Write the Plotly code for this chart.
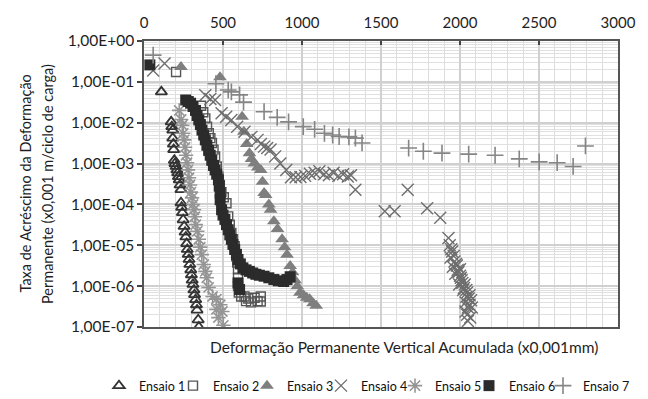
import plotly.graph_objects as go

# ---- data ----
e1_x = [110,172,176,182,182,186,188,192,196,203,208,213,218,223,228,234,234,238,243,248,254,260,265,270,274,280,285,290,296,300,305,310,316,320,327,332,336,343,347]
e1_y = [5.7e-2,1.05e-2,8e-3,6.6e-3,4.2e-3,3e-3,2.2e-3,1.2e-3,1.0e-3,8.5e-4,7e-4,5.9e-4,4.8e-4,4e-4,3e-4,2.3e-4,1.1e-4,8.5e-5,6.3e-5,4.2e-5,2.9e-5,2.1e-5,1.6e-5,1.1e-5,7.9e-6,6e-6,4.5e-6,3.4e-6,2.5e-6,1.9e-6,1.4e-6,1.1e-6,8.1e-7,6.2e-7,4.7e-7,3.5e-7,2.6e-7,1.5e-7,1e-7]

e2_x = [203,361,375,388,399,410,420,430,440,450,461,471,480,490,505,522,533,543,553,563,574,584,590,595,595,595,600,615,636,646,660,677,700,719,739,739]
e2_y = [0.175,0.026,0.018,0.0128,0.008,5.5e-3,4.2e-3,3.2e-3,2.2e-3,1.5e-3,8.5e-4,4.8e-4,3e-4,2e-4,1.5e-4,1.07e-4,5.1e-5,3.2e-5,2e-5,1.4e-5,9.5e-6,5.4e-6,3.8e-6,2.6e-6,1.6e-6,1e-6,7e-7,5.6e-7,5.6e-7,4.3e-7,5e-7,4.0e-7,5.2e-7,4.3e-7,5.6e-7,4.2e-7]

e3_x = [234,481,621,632,650,667,680,698,720,739,750,760,770,790,801,822,845,874,890,905,925,940,956,970,987,1010,1030,1049,1070,1090]
e3_y = [0.23,0.13,0.014,6e-3,3e-3,1.8e-3,1.3e-3,1e-3,8e-4,7e-4,3.6e-4,1.9e-4,1.7e-4,1e-4,7.4e-5,3.9e-5,2.5e-5,1.4e-5,9e-6,5.9e-6,3.1e-6,2.2e-6,1.4e-6,1e-6,6.9e-7,6e-7,5.2e-7,4.8e-7,3.8e-7,3.3e-7]

e4_x = [58,130,388,420,450,491,520,553,590,636,680,719,740,760,780,801,830,863,900,930,960,990,1020,1050,1080,1110,1140,1170,1200,1230,1260,1290,1310,1338,1524,1586,1669,1792,1875,1927,
        1935,1950,1940,1965,1955,1985,1970,2000,2010,1995,2030,2020,2045,2040,2060,2035,2070,2050,2075,2045,2065,
        1945,1960,1975,1990,2005,2015,2025,2040,2055,2060,1980,2000,2035,2050]
e4_y = [0.19,0.28,0.047,0.038,0.036,0.017,0.014,0.0117,8e-3,6e-3,4.5e-3,3.8e-3,3e-3,2.6e-3,2.4e-3,2.2e-3,1.5e-3,1e-3,7e-4,4.6e-4,4.6e-4,4.7e-4,5e-4,5.6e-4,6e-4,6.5e-4,5.5e-4,5.2e-4,6e-4,5e-4,5.5e-4,4.8e-4,5.2e-4,2.3e-4,6.8e-5,6.8e-5,2.3e-4,8.1e-5,4.7e-5,1.5e-5,
        1e-5,7e-6,5e-6,4e-6,3e-6,2.5e-6,2e-6,1.8e-6,1.4e-6,1.1e-6,1.1e-6,8e-7,7e-7,5.5e-7,6e-7,4e-7,4.5e-7,3e-7,3e-7,2e-7,1.7e-7,
        8e-6,5.5e-6,3.5e-6,2.2e-6,1.6e-6,1.2e-6,9e-7,8e-7,5e-7,3.5e-7,3.2e-6,2.6e-6,2.4e-7,1.4e-7]

e5_x = [223,235,242,248,254,260,266,272,279,285,291,297,304,310,316,322,328,337,347,356,366,378,388,397,409,434,458,483,458,496,471,502]
e5_y = [0.02,0.012,8.7e-3,5.5e-3,3.8e-3,2.5e-3,1.6e-3,1.05e-3,7e-4,4.5e-4,3e-4,2e-4,1.45e-4,1e-4,7.4e-5,5e-5,3.2e-5,2.2e-5,1.4e-5,9e-6,5.9e-6,3.4e-6,2.3e-6,1.6e-6,9.3e-7,5.6e-7,4.8e-7,3.5e-7,2.7e-7,2.4e-7,1.7e-7,1.1e-7]

e6_x = [37,264,280,295,310,326,336,347,357,367,378,388,398,409,419,429,440,450,460,471,476,482,482,491,500,512,522,533,543,553,563,574,585,595,610,626,646,667,688,708,730,760,790,822,850,884,905,925,595,605]
e6_y = [0.26,0.036,0.033,0.03,0.025,0.02,0.015,0.0117,9e-3,6.6e-3,5e-3,3.8e-3,2.8e-3,2.1e-3,1.6e-3,1.2e-3,9e-4,7e-4,5.5e-4,4e-4,2.8e-4,1.9e-4,1.3e-4,7.4e-5,5.5e-5,4.3e-5,3.2e-5,2.4e-5,1.8e-5,1.4e-5,1.05e-5,7.9e-6,6e-6,4.5e-6,3.5e-6,2.8e-6,2.5e-6,2.3e-6,2.1e-6,1.95e-6,1.85e-6,1.75e-6,1.6e-6,1.45e-6,1.35e-6,1.3e-6,1.45e-6,1.7e-6,1.2e-6,8.3e-7]

e7_x = [58,455,533,553,605,630,760,843,915,1008,1080,1142,1194,1235,1297,1338,1380,1675,1768,1886,2055,2222,2375,2501,2615,2716,2794]
e7_y = [0.45,0.09,0.063,0.057,0.048,0.032,0.0186,0.0135,0.0105,0.008,0.0069,0.0055,0.005,0.0046,0.0045,0.0042,0.0032,0.0024,0.002,0.0018,0.0017,0.0016,0.0013,0.0011,0.00105,0.00085,0.0027]

names = ["Ensaio 1", "Ensaio 2", "Ensaio 3", "Ensaio 4", "Ensaio 5", "Ensaio 6", "Ensaio 7"]
y_tickvals = [1, 1e-1, 1e-2, 1e-3, 1e-4, 1e-5, 1e-6, 1e-7]
y_ticktext = ["1,00E+00", "1,00E-01", "1,00E-02", "1,00E-03", "1,00E-04", "1,00E-05", "1,00E-06", "1,00E-07"]

series = [(e1_x, e1_y), (e2_x, e2_y), (e3_x, e3_y), (e4_x, e4_y), (e5_x, e5_y), (e6_x, e6_y), (e7_x, e7_y)]
styles = [
    dict(symbol="triangle-up-open", size=10, color="#333333", line=dict(width=1.8, color="#333333")),
    dict(symbol="square-open", size=9, color="#555555", line=dict(width=1.4, color="#555555")),
    dict(symbol="triangle-up", size=12, color="#7f7f7f", line=dict(width=0)),
    dict(symbol="x-thin-open", size=12, color="#6e6e6e", line=dict(width=1.4, color="#6e6e6e")),
    dict(symbol="asterisk-open", size=12, color="#959595", line=dict(width=1.6, color="#959595")),
    dict(symbol="square", size=11, color="#2b2b2b", line=dict(width=0)),
    dict(symbol="cross-thin-open", size=12, color="#858585", line=dict(width=1.6, color="#858585")),
]
# legend symbol centres (px), one legend box per entry
legend_sym_px = [116, 190, 264, 338, 412, 486, 560]

fig = go.Figure()
legend_layouts = {}
for i, ((xs, ys), nm, st) in enumerate(zip(series, names, styles)):
    key = "legend" if i == 0 else f"legend{i+1}"
    fig.add_trace(go.Scatter(x=xs, y=ys, mode="markers", name=nm, marker=st, legend=key))
    legend_layouts[key] = dict(
        orientation="h", xref="container", yref="container",
        x=(legend_sym_px[i] - 17) / 648, y=1 - 386 / 399,
        xanchor="left", yanchor="middle", font=dict(size=12.5, color="#111111"), itemwidth=30,
        bgcolor="rgba(0,0,0,0)", borderwidth=0,
    )

minor_vals = [m * 10.0 ** e for e in range(-7, 0) for m in range(2, 10)]

fig.update_layout(
    width=648, height=399,
    margin=dict(l=144, r=20, t=41, b=72),
    paper_bgcolor="white", plot_bgcolor="white",
    font=dict(family="Lato, Open Sans, sans-serif", size=15, color="#1e1e1e"),
    xaxis=dict(
        range=[0, 3000], side="top", tickmode="linear", tick0=0, dtick=500,
        ticks="inside", ticklen=4, tickcolor="#444", tickwidth=1.5, ticklabelstandoff=5,
        showgrid=True, gridcolor="#d0d0d0", gridwidth=1.5,
        minor=dict(dtick=100, showgrid=True, gridcolor="#dcdcdc", gridwidth=1),
        showline=True, linecolor="#555", linewidth=1.5, mirror=True,
        zeroline=False, tickfont=dict(size=15),
    ),
    yaxis=dict(
        type="log", range=[-7, 0], tickmode="array", tickvals=y_tickvals, ticktext=y_ticktext,
        ticks="outside", ticklen=5, tickcolor="#444", tickwidth=1.5,
        showgrid=True, gridcolor="#d0d0d0", gridwidth=2,
        minor=dict(tickmode="array", tickvals=minor_vals, showgrid=True, gridcolor="#e0e0e0", gridwidth=1, ticks=""),
        showline=True, linecolor="#555", linewidth=1.5, mirror=True,
        zeroline=False, tickfont=dict(size=15.5),
    ),
    showlegend=True,
    **legend_layouts,
)

fig.add_annotation(text="Deformação Permanente Vertical Acumulada (x0,001mm)",
                   xref="paper", yref="paper", x=0.548, y=-0.07, xanchor="center", yanchor="middle",
                   showarrow=False, font=dict(size=15.5))
fig.add_annotation(text="Taxa de Acréscimo da Deformação",
                   xref="paper", yref="paper", x=(22 - 144) / 484, y=0.50, xanchor="center", yanchor="middle",
                   textangle=-90, showarrow=False, font=dict(size=14.5))
fig.add_annotation(text="Permanente (x0,001 m/ciclo de carga)",
                   xref="paper", yref="paper", x=(45 - 144) / 484, y=0.50, xanchor="center", yanchor="middle",
                   textangle=-90, showarrow=False, font=dict(size=14.5))

fig.write_html("out.html")
